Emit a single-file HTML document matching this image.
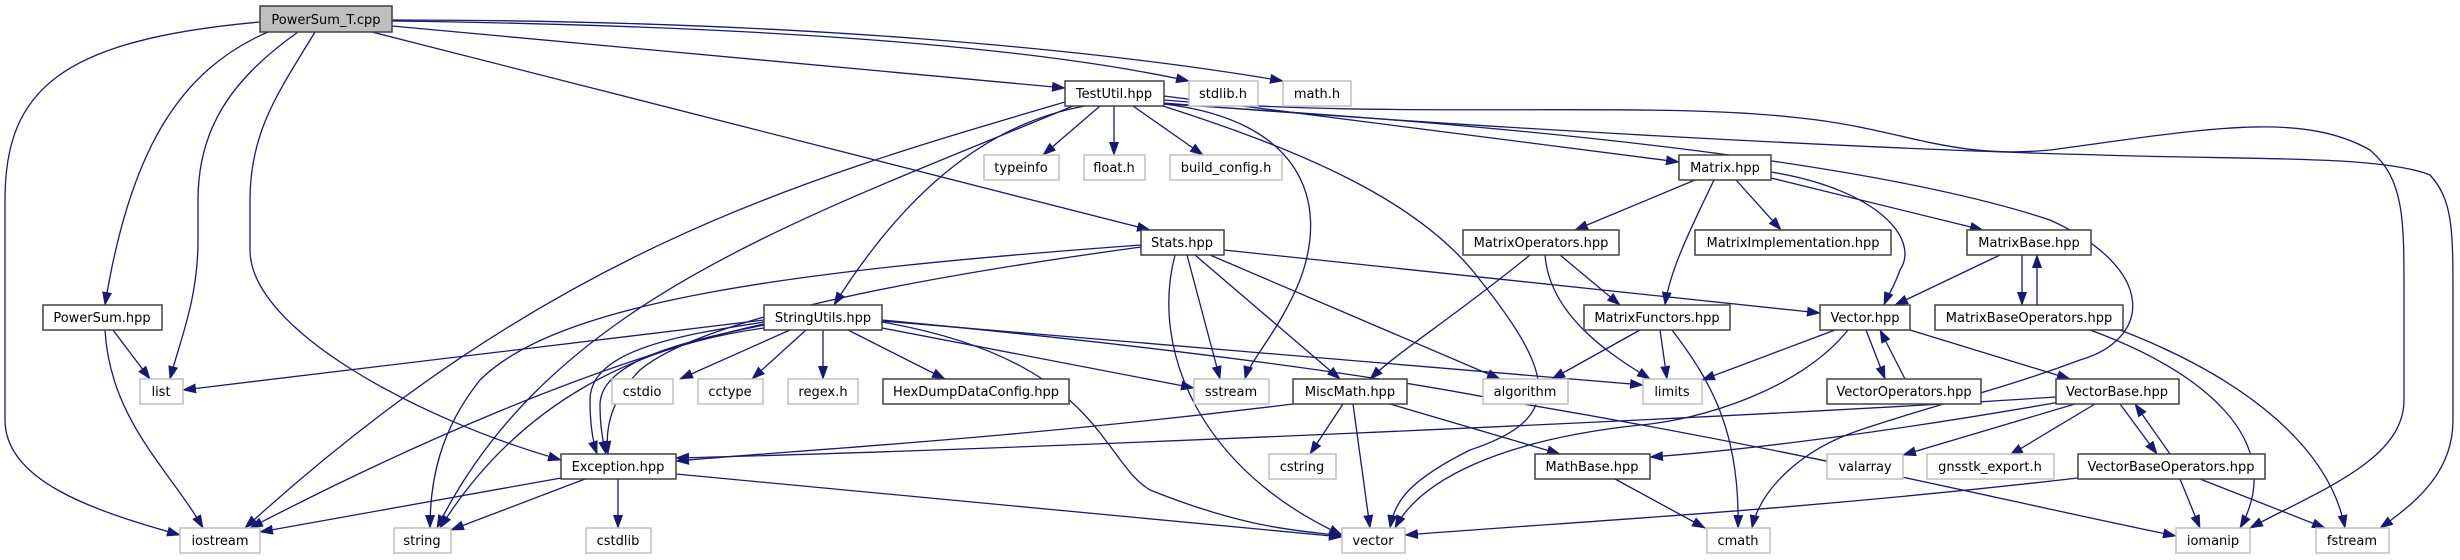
<!DOCTYPE html>
<html><head><meta charset="utf-8"><style>
html,body{margin:0;padding:0;background:#fff;}
svg{display:block;}
text{font-family:"DejaVu Sans","Liberation Sans",sans-serif;font-size:13px;fill:#000;text-anchor:middle;}
.e{fill:none;stroke:#191970;stroke-width:1.3;marker-end:url(#a);}
.n{fill:#fff;stroke:#404040;stroke-width:1.5;}
.g{fill:#fff;stroke:#bfbfbf;stroke-width:1.5;}
</style></head><body>
<svg width="2460" height="560" viewBox="0 0 2460 560" xmlns="http://www.w3.org/2000/svg">
<defs><marker id="a" markerUnits="userSpaceOnUse" markerWidth="14" markerHeight="10" refX="13" refY="5" orient="auto"><path d="M0,0 L14,5 L0,10 z" fill="#191970"/></marker></defs>
<g>
<path class="e" d="M260,22 C60,40 5,90 5,200 L5,420 C5,480 90,510 180,535"/>
<path class="e" d="M268,32 C180,70 130,150 105,305"/>
<path class="e" d="M298,32 C230,80 198,130 198,200 L198,240 C198,300 180,340 170,379"/>
<path class="e" d="M315,32 C280,90 250,130 250,200 L250,250 C250,330 420,420 561,460"/>
<path class="e" d="M372,32 L1150,230"/>
<path class="e" d="M392,26 L1065,88"/>
<path class="e" d="M392,21 C700,25 1000,40 1189,81"/>
<path class="e" d="M392,20 C800,20 1100,50 1283,81"/>
<path class="e" d="M1100,106 L1043,155"/>
<path class="e" d="M1114,106 L1114,155"/>
<path class="e" d="M1133,106 L1203,155"/>
<path class="e" d="M1065,102 C800,180 550,250 245,528"/>
<path class="e" d="M1073,106 C800,220 550,300 437,528"/>
<path class="e" d="M1085,106 C980,125 900,200 834,305"/>
<path class="e" d="M1164,104 C1300,120 1330,200 1300,280 C1280,330 1250,360 1245,379"/>
<path class="e" d="M1163,106 C1300,150 1420,200 1480,280 C1560,380 1560,420 1470,450 C1410,480 1395,500 1390,528"/>
<path class="e" d="M1164,96 L1679,162"/>
<path class="e" d="M1164,100 C1400,120 1650,100 1800,118 C1900,128 1950,160 2050,150 C2200,130 2300,110 2370,150 C2405,180 2404,220 2404,300 L2404,400 C2404,460 2320,490 2250,528"/>
<path class="e" d="M1164,103 C1500,130 1900,150 2100,155 C2250,160 2380,155 2430,175 C2453,200 2453,230 2453,300 L2453,420 C2453,470 2420,500 2380,528"/>
<path class="e" d="M1164,104 C1600,130 1900,170 2050,220 C2160,270 2150,340 2080,360 C2000,390 1950,400 1860,430 C1800,450 1760,490 1752,528"/>
<path class="e" d="M1695,180 L1575,230"/>
<path class="e" d="M1736,180 L1781,230"/>
<path class="e" d="M1771,178 L1983,230"/>
<path class="e" d="M1714,180 C1690,230 1670,270 1665,305"/>
<path class="e" d="M1771,172 C1880,190 1920,240 1900,270 C1895,285 1888,295 1884,305"/>
<path class="e" d="M1530,255 C1450,320 1400,350 1370,379"/>
<path class="e" d="M1560,255 L1620,305"/>
<path class="e" d="M1545,255 C1550,320 1620,360 1650,379"/>
<path class="e" d="M2000,255 L1895,305"/>
<path class="e" d="M2022,255 L2022,305"/>
<path class="e" d="M2037,305 L2037,255"/>
<path class="e" d="M2090,330 C2200,370 2290,440 2240,528"/>
<path class="e" d="M2120,330 C2250,380 2330,450 2345,528"/>
<path class="e" d="M1660,330 L1667,379"/>
<path class="e" d="M1640,330 L1552,379"/>
<path class="e" d="M1672,330 C1710,380 1740,430 1738,528"/>
<path class="e" d="M1835,330 L1702,380"/>
<path class="e" d="M1848,330 C1800,390 1700,420 1640,425 C1500,440 1420,480 1395,528"/>
<path class="e" d="M1866,330 L1885,379"/>
<path class="e" d="M1905,379 L1880,330"/>
<path class="e" d="M1910,330 L2070,379"/>
<path class="e" d="M2056,397 C1700,420 1000,450 676,458"/>
<path class="e" d="M2060,402 C1900,430 1750,450 1650,457"/>
<path class="e" d="M2075,404 L1903,455"/>
<path class="e" d="M2095,404 L2010,455"/>
<path class="e" d="M2120,404 L2157,454"/>
<path class="e" d="M2170,454 L2135,404"/>
<path class="e" d="M2078,478 C1800,510 1600,520 1405,535"/>
<path class="e" d="M2180,479 L2200,528"/>
<path class="e" d="M2200,479 L2325,528"/>
<path class="e" d="M1615,479 L1705,528"/>
<path class="e" d="M1293,404 C1000,440 800,450 676,461"/>
<path class="e" d="M1343,404 L1310,454"/>
<path class="e" d="M1353,404 L1370,528"/>
<path class="e" d="M1390,404 L1560,454"/>
<path class="e" d="M1141,245 C800,270 560,300 480,380 C440,430 430,480 430,528"/>
<path class="e" d="M1141,247 C900,280 700,320 640,370 C610,400 605,430 608,454"/>
<path class="e" d="M1175,255 C1150,350 1200,470 1342,535"/>
<path class="e" d="M1187,255 L1220,379"/>
<path class="e" d="M1195,255 L1340,379"/>
<path class="e" d="M1210,255 L1500,379"/>
<path class="e" d="M1224,250 L1820,313"/>
<path class="e" d="M764,320 L183,390"/>
<path class="e" d="M764,324 C600,360 400,450 250,528"/>
<path class="e" d="M764,328 C640,345 520,400 440,528"/>
<path class="e" d="M764,322 C680,335 590,350 590,400 C590,430 594,445 597,454"/>
<path class="e" d="M764,325 C690,340 600,360 600,405 C600,430 604,445 606,454"/>
<path class="e" d="M790,330 L680,379"/>
<path class="e" d="M806,330 L752,379"/>
<path class="e" d="M823,330 L823,379"/>
<path class="e" d="M848,330 L945,379"/>
<path class="e" d="M882,328 L1194,388"/>
<path class="e" d="M882,322 C1100,360 1100,460 1150,490 C1250,530 1300,530 1342,536"/>
<path class="e" d="M882,321 L1643,385"/>
<path class="e" d="M882,320 C1200,350 1400,380 1500,400 C1800,450 2000,500 2176,536"/>
<path class="e" d="M561,478 L260,532"/>
<path class="e" d="M585,479 L451,530"/>
<path class="e" d="M618,479 L618,528"/>
<path class="e" d="M676,474 L1342,537"/>
<path class="e" d="M113,330 L150,379"/>
<path class="e" d="M105,330 C110,420 170,470 203,528"/>
</g>
<g>
<rect x="260" y="6" width="132" height="26" fill="#bfbfbf" stroke="#404040" stroke-width="1.5"/><text x="326" y="24">PowerSum_T.cpp</text>
<rect class="n" x="1065" y="81" width="99" height="25"/><text x="1114" y="98">TestUtil.hpp</text>
<rect class="g" x="1189" y="81" width="69" height="25"/><text x="1223" y="98">stdlib.h</text>
<rect class="g" x="1283" y="81" width="68" height="25"/><text x="1317" y="98">math.h</text>
<rect class="g" x="984" y="155" width="75" height="25"/><text x="1021" y="172">typeinfo</text>
<rect class="g" x="1084" y="155" width="61" height="25"/><text x="1114" y="172">float.h</text>
<rect class="g" x="1170" y="155" width="112" height="25"/><text x="1226" y="172">build_config.h</text>
<rect class="n" x="1679" y="155" width="92" height="25"/><text x="1725" y="172">Matrix.hpp</text>
<rect class="n" x="1141" y="230" width="83" height="25"/><text x="1182" y="247">Stats.hpp</text>
<rect class="n" x="1463" y="230" width="156" height="25"/><text x="1541" y="247">MatrixOperators.hpp</text>
<rect class="n" x="1695" y="230" width="196" height="25"/><text x="1793" y="247">MatrixImplementation.hpp</text>
<rect class="n" x="1967" y="230" width="124" height="25"/><text x="2029" y="247">MatrixBase.hpp</text>
<rect class="n" x="43" y="305" width="119" height="25"/><text x="102" y="322">PowerSum.hpp</text>
<rect class="n" x="764" y="305" width="118" height="25"/><text x="823" y="322">StringUtils.hpp</text>
<rect class="n" x="1584" y="305" width="146" height="25"/><text x="1657" y="322">MatrixFunctors.hpp</text>
<rect class="n" x="1820" y="305" width="90" height="25"/><text x="1865" y="322">Vector.hpp</text>
<rect class="n" x="1935" y="305" width="188" height="25"/><text x="2029" y="322">MatrixBaseOperators.hpp</text>
<rect class="g" x="140" y="379" width="43" height="25"/><text x="161" y="396">list</text>
<rect class="g" x="612" y="379" width="61" height="25"/><text x="642" y="396">cstdio</text>
<rect class="g" x="698" y="379" width="65" height="25"/><text x="730" y="396">cctype</text>
<rect class="g" x="788" y="379" width="70" height="25"/><text x="823" y="396">regex.h</text>
<rect class="n" x="883" y="379" width="186" height="25"/><text x="976" y="396">HexDumpDataConfig.hpp</text>
<rect class="g" x="1194" y="379" width="75" height="25"/><text x="1231" y="396">sstream</text>
<rect class="n" x="1293" y="379" width="114" height="25"/><text x="1350" y="396">MiscMath.hpp</text>
<rect class="g" x="1483" y="379" width="85" height="25"/><text x="1525" y="396">algorithm</text>
<rect class="g" x="1643" y="379" width="59" height="25"/><text x="1672" y="396">limits</text>
<rect class="n" x="1827" y="379" width="154" height="25"/><text x="1904" y="396">VectorOperators.hpp</text>
<rect class="n" x="2056" y="379" width="123" height="25"/><text x="2117" y="396">VectorBase.hpp</text>
<rect class="n" x="561" y="454" width="115" height="25"/><text x="618" y="471">Exception.hpp</text>
<rect class="g" x="1269" y="454" width="67" height="25"/><text x="1302" y="471">cstring</text>
<rect class="n" x="1535" y="454" width="115" height="25"/><text x="1592" y="471">MathBase.hpp</text>
<rect class="g" x="1827" y="454" width="76" height="25"/><text x="1865" y="471">valarray</text>
<rect class="g" x="1927" y="454" width="127" height="25"/><text x="1990" y="471">gnsstk_export.h</text>
<rect class="n" x="2078" y="454" width="187" height="25"/><text x="2171" y="471">VectorBaseOperators.hpp</text>
<rect class="g" x="180" y="528" width="80" height="25"/><text x="220" y="545">iostream</text>
<rect class="g" x="394" y="528" width="57" height="25"/><text x="422" y="545">string</text>
<rect class="g" x="586" y="528" width="65" height="25"/><text x="618" y="545">cstdlib</text>
<rect class="g" x="1342" y="528" width="63" height="25"/><text x="1373" y="545">vector</text>
<rect class="g" x="1707" y="528" width="63" height="25"/><text x="1738" y="545">cmath</text>
<rect class="g" x="2176" y="528" width="74" height="25"/><text x="2213" y="545">iomanip</text>
<rect class="g" x="2316" y="528" width="73" height="25"/><text x="2352" y="545">fstream</text>
</g>
</svg>
</body></html>
